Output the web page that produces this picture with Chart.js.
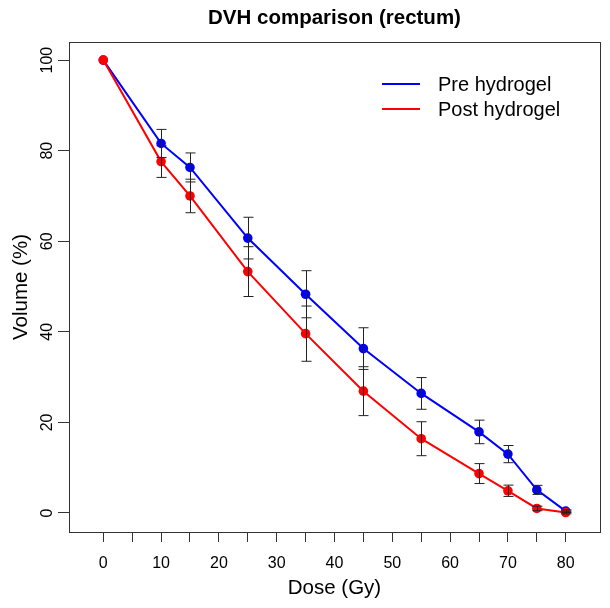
<!DOCTYPE html>
<html>
<head>
<meta charset="utf-8">
<script src="https://cdn.jsdelivr.net/npm/chart.js@4"></script>
<style>
  body { margin: 0; background: #fff; }
</style>
</head>
<body>
<canvas id="mychart" width="610" height="608"></canvas>
<script>
// dose levels (Gy)
let doses = [0, 10, 15, 25, 35, 45, 55, 65, 70, 75, 80];

// mean volume (%) and error (+/-)
let preVol  = [100, 81.6, 76.3, 60.7, 48.3, 36.3, 26.4, 17.9, 13.0, 5.1, 0.4];
let preErr  = [0, 3.1, 3.2, 4.6, 5.2, 4.6, 3.5, 2.6, 1.9, 1.0, 0.3];
let postVol = [100, 77.6, 70.0, 53.3, 39.6, 26.9, 16.4, 8.7, 4.9, 1.0, 0.1];
let postErr = [0, 3.5, 3.7, 5.5, 6.1, 5.4, 3.75, 2.2, 1.25, 0.5, 0.3];

let xTicks = [0, 5, 10, 15, 20, 25, 30, 35, 40, 45, 50, 55, 60, 65, 70, 75, 80];
let yTicks = [0, 20, 40, 60, 80, 100];

Chart.defaults.font.family = "'Liberation Sans', Arial, sans-serif";
Chart.defaults.color = '#000';

function toPoints(vals){
    return doses.map((d, i) => ({x: d, y: vals[i]}));
}

// error bars drawn on top of the points
const errorBars = {
    id: 'errorBars',
    afterDatasetsDraw(chart){
        const ctx = chart.ctx;
        const xs = chart.scales.x, ys = chart.scales.y;
        ctx.save();
        ctx.strokeStyle = '#222';
        ctx.lineWidth = 1;
        [[preVol, preErr], [postVol, postErr]].forEach(([vals, errs]) => {
            doses.forEach((d, i) => {
                if (!errs[i]) return;
                const px = Math.round(xs.getPixelForValue(d)) + 0.5;
                const top = ys.getPixelForValue(vals[i] + errs[i]);
                const bot = ys.getPixelForValue(vals[i] - errs[i]);
                ctx.beginPath();
                ctx.moveTo(px, top); ctx.lineTo(px, bot);
                ctx.moveTo(px - 5, top); ctx.lineTo(px + 5, top);
                ctx.moveTo(px - 5, bot); ctx.lineTo(px + 5, bot);
                ctx.stroke();
            });
        });
        ctx.restore();
    }
};

// box round the plot + legend in the top right
const frameAndLegend = {
    id: 'frameAndLegend',
    afterDraw(chart){
        const ctx = chart.ctx;
        const a = chart.chartArea;
        ctx.save();
        ctx.strokeStyle = '#333';
        ctx.lineWidth = 1;
        ctx.strokeRect(Math.round(a.left) + 0.5, Math.round(a.top) + 0.5,
                       Math.round(a.right - a.left), Math.round(a.bottom - a.top));

        ctx.font = "20px 'Liberation Sans', Arial, sans-serif";
        ctx.textBaseline = 'middle';
        ctx.fillStyle = '#000';
        const items = [chart.data.datasets[0], chart.data.datasets[1]];
        items.forEach((ds, i) => {
            const y = 84 + i * 25;
            ctx.strokeStyle = ds.borderColor;
            ctx.lineWidth = 2;
            ctx.beginPath();
            ctx.moveTo(382, y); ctx.lineTo(420, y);
            ctx.stroke();
            ctx.fillText(ds.label, 438, y + 1);
        });
        ctx.restore();
    }
};

const ctx = document.getElementById('mychart');

new Chart(ctx, {
    type: 'line',
    data: {
        datasets: [{
            label: 'Pre hydrogel',
            data: toPoints(preVol),
            borderColor: '#0000ff',
            backgroundColor: '#0000ff',
            borderWidth: 2,
            pointRadius: 4.8,
            pointBorderWidth: 0,
            order: 1
        }, {
            label: 'Post hydrogel',
            data: toPoints(postVol),
            borderColor: '#ff0000',
            backgroundColor: '#ff0000',
            borderWidth: 2,
            pointRadius: 4.8,
            pointBorderWidth: 0,
            order: 0
        }]
    },
    options: {
        responsive: false,
        animation: false,
        layout: { padding: { left: 0, right: 10, top: 0, bottom: 0 } },
        plugins: {
            legend: { display: false },
            tooltip: { enabled: false },
            title: {
                display: true,
                text: 'DVH comparison (rectum)',
                fullSize: false,
                font: { size: 20.5, weight: 'bold' },
                color: '#000',
                padding: { top: 6, bottom: 11.4 }
            }
        },
        scales: {
            x: {
                type: 'linear',
                min: -5.93,
                max: 85.93,
                afterBuildTicks(scale){ scale.ticks = xTicks.map(v => ({value: v})); },
                afterFit(scale){ scale.height = 76; },
                border: { display: false },
                grid: { drawOnChartArea: false, drawTicks: true, tickLength: 10, color: '#333' },
                ticks: {
                    font: { size: 16 },
                    padding: 12,
                    maxRotation: 0,
                    autoSkip: false,
                    callback: v => (v % 10 === 0 ? v : '')
                },
                title: { display: true, text: 'Dose (Gy)', font: { size: 20.5 }, padding: { top: 7, bottom: 7 } }
            },
            y: {
                min: -4.2,
                max: 104,
                afterBuildTicks(scale){ scale.ticks = yTicks.map(v => ({value: v})); },
                afterFit(scale){ scale.width = 69; },
                border: { display: false },
                grid: { drawOnChartArea: false, drawTicks: true, tickLength: 11, color: '#333' },
                ticks: {
                    font: { size: 16 },
                    padding: -3,
                    minRotation: 90,
                    maxRotation: 90,
                    crossAlign: 'center'
                },
                title: { display: true, text: 'Volume (%)', font: { size: 20.5 }, padding: { top: 9, bottom: 9 } }
            }
        }
    },
    plugins: [errorBars, frameAndLegend]
});
</script>
</body>
</html>
